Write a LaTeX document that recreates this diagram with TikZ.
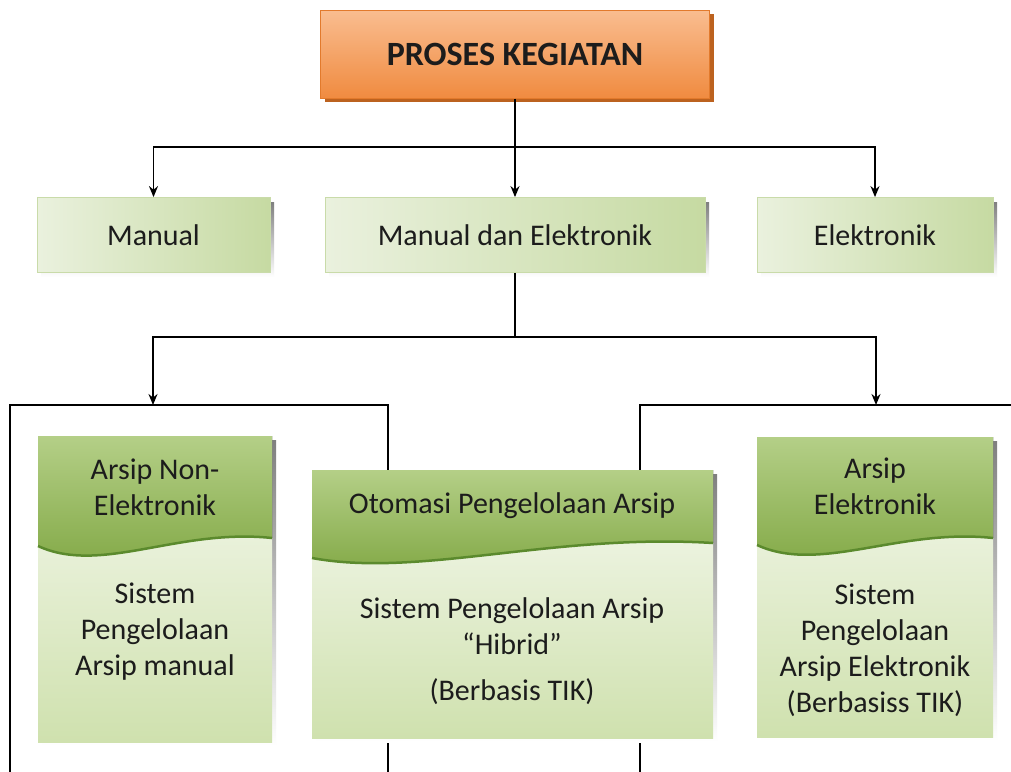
\documentclass[tikz,border=0pt]{standalone}
\usepackage{fontspec}
\setmainfont{Carlito}
\usetikzlibrary{arrows.meta}

\definecolor{orangeTop}{HTML}{F9BD90}
\definecolor{orangeBot}{HTML}{F08B40}
\definecolor{orangeLine}{HTML}{E27A2C}
\definecolor{orangeShade}{HTML}{BC621F}
\definecolor{rowLight}{HTML}{EAF1DE}
\definecolor{rowGreen}{HTML}{C6DAA2}
\definecolor{rowLine}{HTML}{C9DBA9}
\definecolor{headTop}{HTML}{B4CF87}
\definecolor{headBot}{HTML}{80A743}
\definecolor{waveLine}{HTML}{5B8A2D}
\definecolor{bodyTop}{HTML}{F6F9F0}
\definecolor{bodyBot}{HTML}{CFE1AE}
\definecolor{shade}{HTML}{B3B9A5}
\definecolor{ink}{HTML}{1C1C1C}

\tikzset{
  conn/.style={line width=1.6pt, -{Stealth[length=11pt,width=9pt]}},
  bare/.style={line width=1.6pt},
  topbox/.style={draw=orangeLine, line width=1pt, top color=orangeTop, bottom color=orangeBot,
    minimum width=389pt, minimum height=88pt, font=\fontsize{34}{40}\selectfont\bfseries, text=ink},
  rowbox/.style={draw=rowLine, line width=0.8pt, left color=rowLight, right color=rowGreen,
    minimum height=75pt, font=\fontsize{30}{36}\selectfont, text=ink},
  cardtext/.style={align=center, font=\fontsize{30}{36}\selectfont, text=ink}
}

\begin{document}
\begin{tikzpicture}[x=1pt,y=1pt,yscale=-1,xscale=1]
    \useasboundingbox (0,0) rectangle (1011,771);
    \fill[white] (0,0) rectangle (1011,771);
    \clip (0,0) rectangle (1011,771);

    %Shape: Rectangle (top shadow)
    \fill[orangeShade] (325,14) rectangle (714,102);
    % Text Node
    \draw (515,54) node (proses) [topbox] {PROSES KEGIATAN};

    %Shape: Rectangle (row shadows)
    \fill[shade] (41,202) rectangle (274,277);
    \fill[shade] (329,202) rectangle (709,277);
    \fill[shade] (761,202) rectangle (997,277);
    % Text Node
    \draw (153.5,235) node (manual) [rowbox, minimum width=233pt] {Manual};
    % Text Node
    \draw (515,235) node (campur) [rowbox, minimum width=380pt] {Manual dan Elektronik};
    % Text Node
    \draw (875,235) node (elek) [rowbox, minimum width=236pt] {Elektronik};

    % Connectors, first level
    \coordinate (split1) at (515,147);
    \draw[conn] (proses.south) -- (campur.north);
    \draw[conn] (split1) -| (manual.north);
    \draw[conn] (split1) -| (elek.north);

    %Shape: Group frames
    \draw[bare] (10,405) rectangle (388,790);
    \draw[bare] (640,405) rectangle (1030,790);
    \coordinate (kiri) at (153,405);
    \coordinate (kanan) at (876,405);

    % Connectors, second level
    \coordinate (split2) at (515,337);
    \draw[bare] (campur.south) -- (split2);
    \draw[conn] (split2) -| (kiri);
    \draw[conn] (split2) -| (kanan);

    %Shape: Card left
    \fill[shade] (42,440) rectangle (276,746);
    \fill[top color=bodyTop, bottom color=bodyBot] (38,436) rectangle (272,742);
    \fill[top color=headTop, bottom color=headBot] (38,436) -- (272,436) -- (272,538)
        .. controls (178,528) and (101,575) .. (38,546) -- cycle;
    \draw[waveLine, line width=2.5pt] (272,538) .. controls (178,528) and (101,575) .. (38,546);

    %Shape: Card middle
    \fill[shade] (316,474) rectangle (717,742);
    \fill[top color=bodyTop, bottom color=bodyBot] (312,470) rectangle (713,738);
    \fill[top color=headTop, bottom color=headBot] (312,470) -- (713,470) -- (713,543)
        .. controls (553,533) and (420,578) .. (312,558) -- cycle;
    \draw[waveLine, line width=2.5pt] (713,543) .. controls (553,533) and (420,578) .. (312,558);

    %Shape: Card right
    \fill[shade] (761,441) rectangle (997,741);
    \fill[top color=bodyTop, bottom color=bodyBot] (757,437) rectangle (993,737);
    \fill[top color=headTop, bottom color=headBot] (757,437) -- (993,437) -- (993,538)
        .. controls (899,528) and (820,574) .. (757,545) -- cycle;
    \draw[waveLine, line width=2.5pt] (993,538) .. controls (899,528) and (820,574) .. (757,545);

    % Text Node
    \draw (155,487) node (nonelek) [cardtext] {Arsip Non-\\Elektronik};
    % Text Node
    \draw (512,506) node (otomasi) [cardtext] {Otomasi Pengelolaan Arsip};
    % Text Node
    \draw (875,486) node (arsipelek) [cardtext] {Arsip\\Elektronik};
    % Text Node
    \draw (155,632) node (manualisi) [cardtext] {Sistem\\Pengelolaan\\Arsip manual};
    % Text Node
    \draw (512,651) node (hibrid) [cardtext] {Sistem Pengelolaan Arsip\\“Hibrid”\\[10pt](Berbasis TIK)};
    % Text Node
    \draw (875,650) node (elekisi) [cardtext] {Sistem\\Pengelolaan\\Arsip Elektronik\\(Berbasiss TIK)};
\end{tikzpicture}
\end{document}
